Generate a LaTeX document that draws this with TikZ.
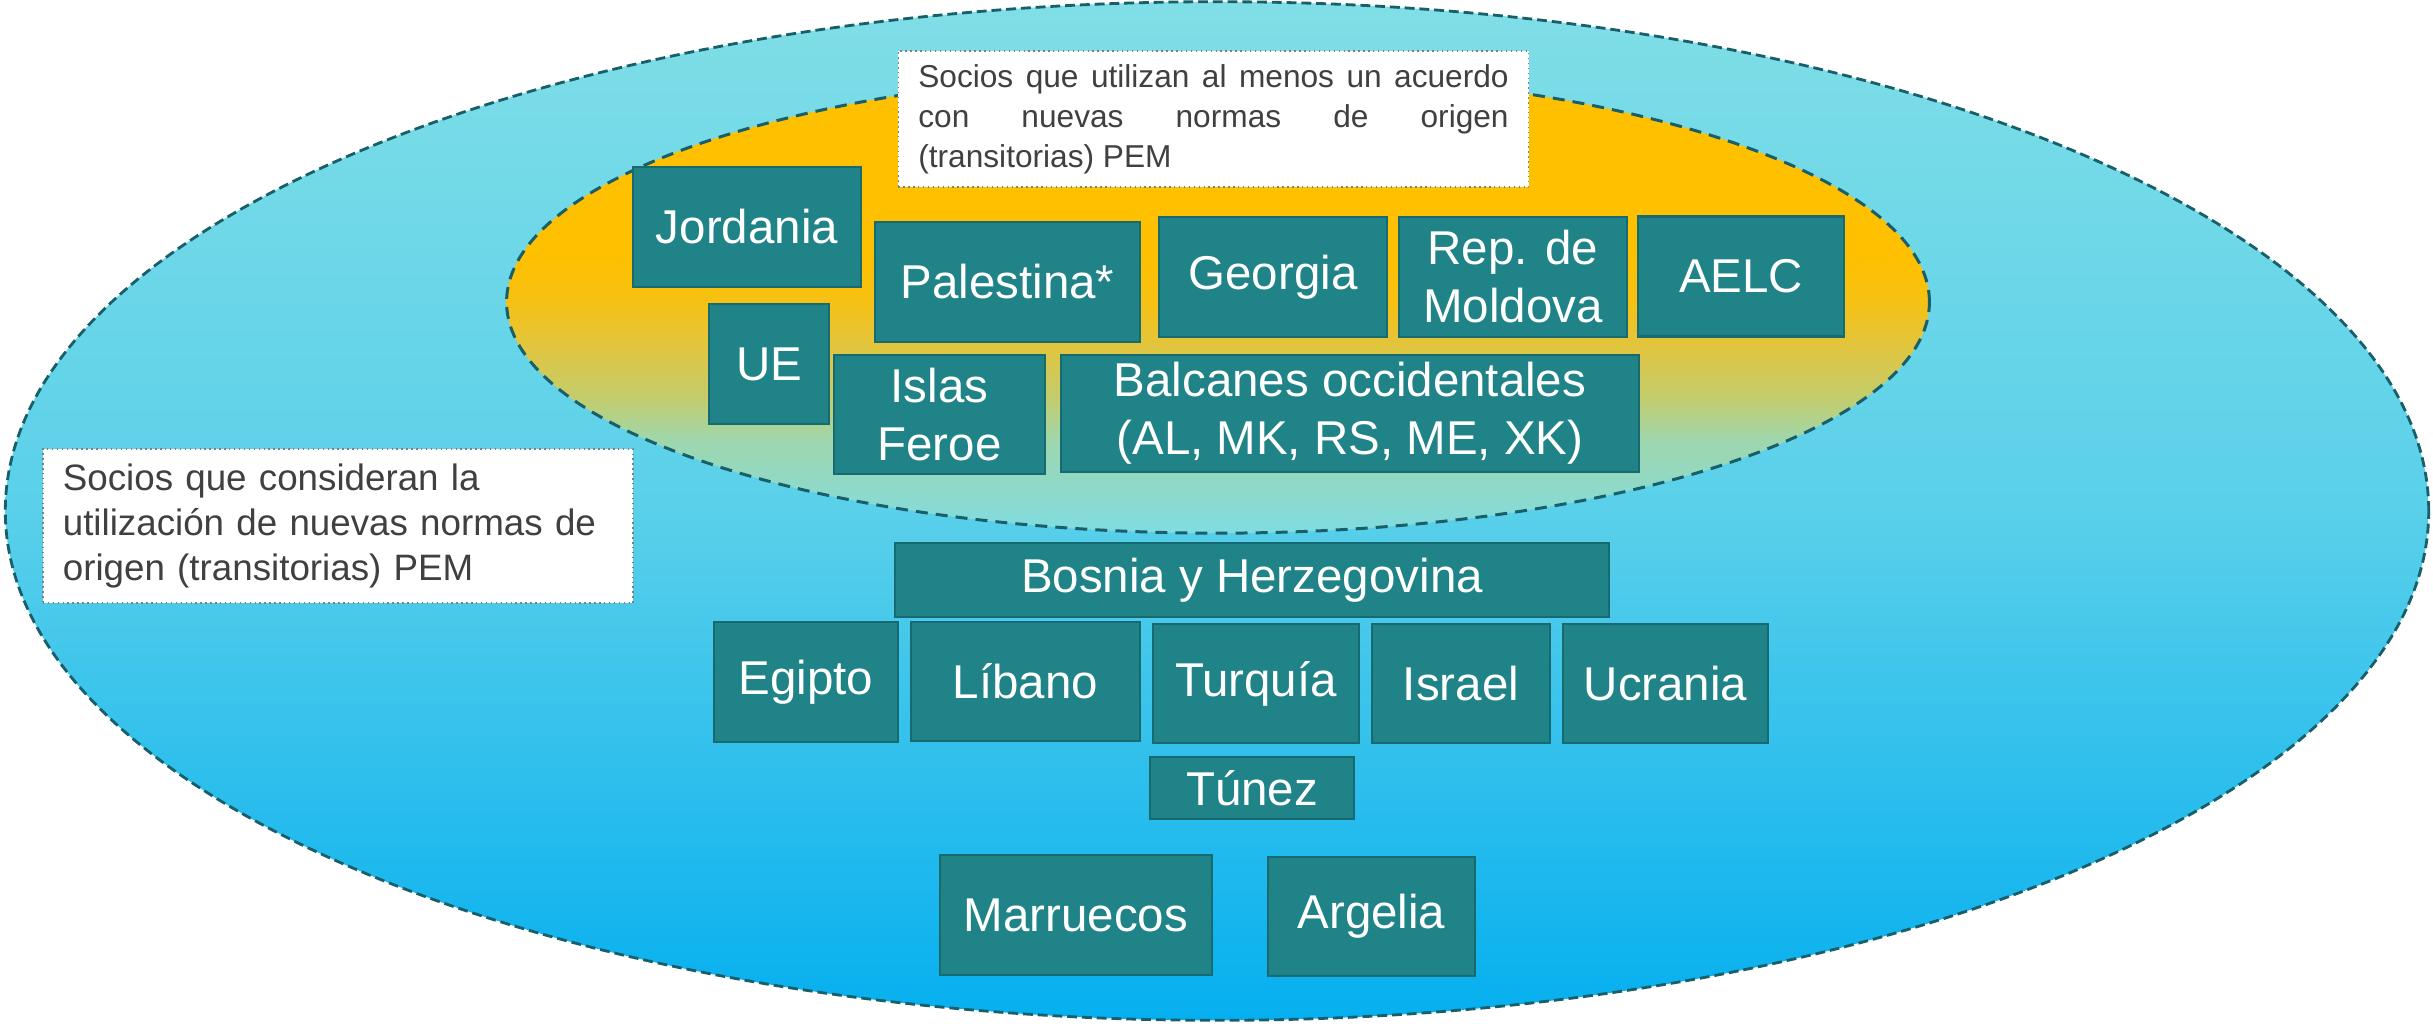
\documentclass[tikz,border=0pt]{standalone}
\usepackage{fontspec}
\setmainfont{Liberation Sans}
\definecolor{boxfill}{HTML}{1F8387}
\definecolor{boxline}{HTML}{176A70}
\definecolor{dashline}{HTML}{185F69}
\definecolor{notetext}{HTML}{404040}
\definecolor{notegrey}{HTML}{7F7F7F}
\definecolor{skytop}{HTML}{80DEE6}
\definecolor{skymid}{HTML}{5AD0EA}
\definecolor{skybot}{HTML}{05AFEF}
\definecolor{amber}{HTML}{FFC000}
\definecolor{amberA}{HTML}{F6C114}
\definecolor{amberB}{HTML}{E0C540}
\definecolor{olive}{HTML}{C2CD6E}
\definecolor{mint}{HTML}{9ED7AE}
\definecolor{aqua}{HTML}{80DCE2}
\pgfdeclareverticalshading{outershade}{100bp}{color(0bp)=(skybot); color(25bp)=(skybot); color(50bp)=(skymid); color(75bp)=(skytop); color(100bp)=(skytop)}
\pgfdeclareverticalshading{innershade}{100bp}{color(0bp)=(aqua); color(25bp)=(aqua); color(35bp)=(mint); color(39.5bp)=(olive); color(45bp)=(amberB); color(50bp)=(amberA); color(55bp)=(amber); color(100bp)=(amber)}
\tikzset{
  country/.style={draw=boxline, fill=boxfill, text=white, line width=0.7pt, inner sep=0pt,
    minimum height=1.2cm, align=center, font=\fontsize{13.5}{16.5}\selectfont},
  note/.style={draw=notegrey, densely dotted, fill=white, text=notetext, line width=0.4pt,
    inner xsep=0.2cm, inner ysep=0pt},
  outerdash/.style={draw=dashline, line width=0.8pt, dash pattern=on 2.8pt off 1.4pt},
  innerdash/.style={draw=dashline, line width=0.85pt, dash pattern=on 3.4pt off 2.3pt}
}
\begin{document}
\begin{tikzpicture}[x=0.01cm,y=-0.01cm]
        \useasboundingbox (0,0) rectangle (2433,1023);
        % the two circles of partners
        \shadedraw[shading=outershade, outerdash](1217,511) ellipse [x radius=12.11cm, y radius=5.09cm];
        \shadedraw[shading=innershade, innerdash](1218,302) ellipse [x radius=7.11cm, y radius=2.31cm];
        \node[note, text width=5.9cm, minimum height=1.36cm, align=justify, font=\fontsize{9}{11.4}\selectfont] (acuerdo) at (1213.5,119)
            {Socios que utilizan al menos un acuerdo\linebreak con nuevas normas de origen\linebreak (transitorias) PEM};
        \node[note, text width=5.5cm, minimum height=1.54cm, align=left, font=\fontsize{10.45}{12.8}\selectfont] (considera) at (338,526)
            {Socios que consideran la\\utilización de nuevas normas de\\origen (transitorias) PEM};
        % inside
        \node[country, minimum width=2.28cm] (jordania) at (747,227) {Jordania};
        \node[country, minimum width=2.65cm] (palestina) at (1007.5,282) {Palestina*};
        \node[country, minimum width=2.28cm] (georgia) at (1273,277) {Georgia};
        \node[country, minimum width=2.28cm] (moldova) at (1513,277) {Rep. de\\Moldova};
        \node[country, minimum width=2.06cm] (aelc) at (1741,276.5) {AELC};
        \node[country, minimum width=1.20cm] (ue) at (769,364) {UE};
        \node[country, minimum width=2.11cm, minimum height=1.19cm] (feroe) at (939.5,414.5) {Islas\\Feroe};
        \node[country, minimum width=5.78cm, minimum height=1.17cm] (balcanes) at (1350,413.5) {Balcanes occidentales\\(AL, MK, RS, ME, XK)};
        % outside
        \node[country, minimum width=7.14cm, minimum height=0.74cm] (bosnia) at (1252,580) {Bosnia y Herzegovina};
        \node[country, minimum width=1.84cm] (egipto) at (806,682) {Egipto};
        \node[country, minimum width=2.29cm, minimum height=1.19cm] (libano) at (1025.5,681.5) {Líbano};
        \node[country, minimum width=2.06cm, minimum height=1.19cm] (turquia) at (1256,683.5) {Turquía};
        \node[country, minimum width=1.78cm, minimum height=1.19cm] (israel) at (1461,683.5) {Israel};
        \node[country, minimum width=2.05cm, minimum height=1.19cm] (ucrania) at (1665.5,683.5) {Ucrania};
        \node[country, minimum width=2.04cm, minimum height=0.62cm] (tunez) at (1252,788) {Túnez};
        \node[country, minimum width=2.72cm] (marruecos) at (1076,915) {Marruecos};
        \node[country, minimum width=2.07cm, minimum height=1.19cm] (argelia) at (1371.5,916.5) {Argelia};
\end{tikzpicture}
\end{document}
